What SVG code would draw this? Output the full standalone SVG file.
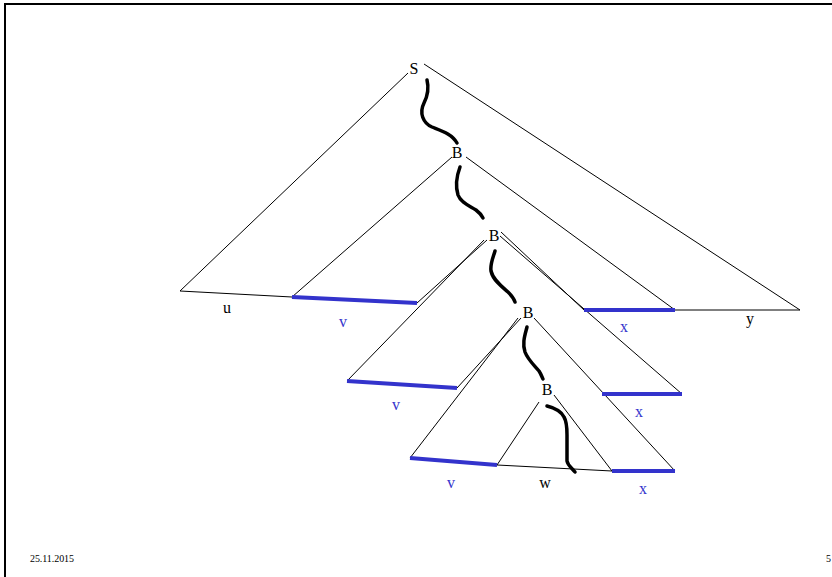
<svg xmlns="http://www.w3.org/2000/svg" width="832" height="577" viewBox="0 0 832 577">
<style>
.ln{stroke:#000;stroke-width:1;fill:none}
.bl{stroke:#3333cc;stroke-width:4;fill:none}
.sq{stroke:#000;stroke-width:3.5;fill:none;stroke-linecap:round;stroke-linejoin:round}
.nd{font-family:"Liberation Serif",serif;font-size:16px;fill:#000;text-anchor:middle}
.lb{font-family:"Liberation Serif",serif;font-size:16px;fill:#000;text-anchor:middle}
.lbb{font-family:"Liberation Serif",serif;font-size:16px;fill:#3333cc;text-anchor:middle}
.ft{font-family:"Liberation Serif",serif;font-size:10px;fill:#000}
</style>
<rect width="832" height="577" fill="#fff"/>
<rect x="5" y="4" width="900" height="700" fill="none" stroke="#000" stroke-width="2"/>
<g id="connectors">
<line class="ln" x1="408" y1="73" x2="180" y2="291"/>
<line class="ln" x1="424" y1="64" x2="800" y2="310"/>
<line class="ln" x1="180" y1="291" x2="292" y2="297"/>
<line class="ln" x1="452" y1="157" x2="292" y2="297"/>
<line class="ln" x1="466" y1="157" x2="675" y2="310"/>
<line class="ln" x1="675" y1="310" x2="800" y2="310"/>
<line class="ln" x1="487" y1="240" x2="417" y2="303"/>
<line class="ln" x1="484" y1="240" x2="347" y2="381"/>
<line class="ln" x1="501" y1="232" x2="584" y2="310"/>
<line class="ln" x1="500" y1="236" x2="682" y2="394"/>
<line class="ln" x1="521" y1="318" x2="457" y2="388"/>
<line class="ln" x1="518" y1="318" x2="410" y2="458"/>
<line class="ln" x1="534" y1="318" x2="675" y2="471"/>
<line class="ln" x1="539" y1="402" x2="497" y2="465"/>
<line class="ln" x1="554" y1="395" x2="612" y2="471"/>
<line class="ln" x1="497" y1="465" x2="612" y2="471"/>
<line class="bl" x1="292" y1="297" x2="417" y2="303"/>
<line class="bl" x1="584" y1="310" x2="675" y2="310"/>
<line class="bl" x1="347" y1="381" x2="457" y2="388"/>
<line class="bl" x1="602" y1="394" x2="682" y2="394"/>
<line class="bl" x1="410" y1="458" x2="497" y2="465"/>
<line class="bl" x1="612" y1="471" x2="675" y2="471"/>
<path class="sq" d="M427,80 C429,88 428,95 424,103 C419,113 423,123 432,127 C442,131 452,134 457,143"/>
<path class="sq" d="M460,167 C457,175 455,185 458,195 C461,203 470,206 476,210 C480,213 482,216 483,218"/>
<path class="sq" d="M495,251 C493,258 490,264 491,271 C493,280 502,287 508,292 C512,296 514,299 515,302"/>
<path class="sq" d="M527,327 C525,335 522,343 525,352 C528,360 535,366 539,371 C541,374 542,377 543,379"/>
<path class="sq" d="M547,406 C555,408 561,411 564,417 C567,422 567,428 567,435 L567,461 C568,466 572,468 575,472"/>
</g>
<g id="S"><text class="nd" x="414" y="74">S</text></g>
<g id="B1"><text class="nd" x="457" y="158">B</text></g>
<g id="B2"><text class="nd" x="494" y="241">B</text></g>
<g id="B3"><text class="nd" x="528" y="318">B</text></g>
<g id="B4"><text class="nd" x="547" y="395">B</text></g>
<g id="labels">
<text class="lb" x="227" y="313">u</text>
<text class="lbb" x="343" y="327">v</text>
<text class="lbb" x="624" y="332">x</text>
<text class="lb" x="750" y="324">y</text>
<text class="lbb" x="396" y="410">v</text>
<text class="lbb" x="639" y="417">x</text>
<text class="lbb" x="451" y="488">v</text>
<text class="lb" x="545" y="488">w</text>
<text class="lbb" x="643" y="494">x</text>
<text class="ft" x="30" y="562" textLength="44">25.11.2015</text>
<text class="ft" x="826" y="562">5</text>
</g>
</svg>
